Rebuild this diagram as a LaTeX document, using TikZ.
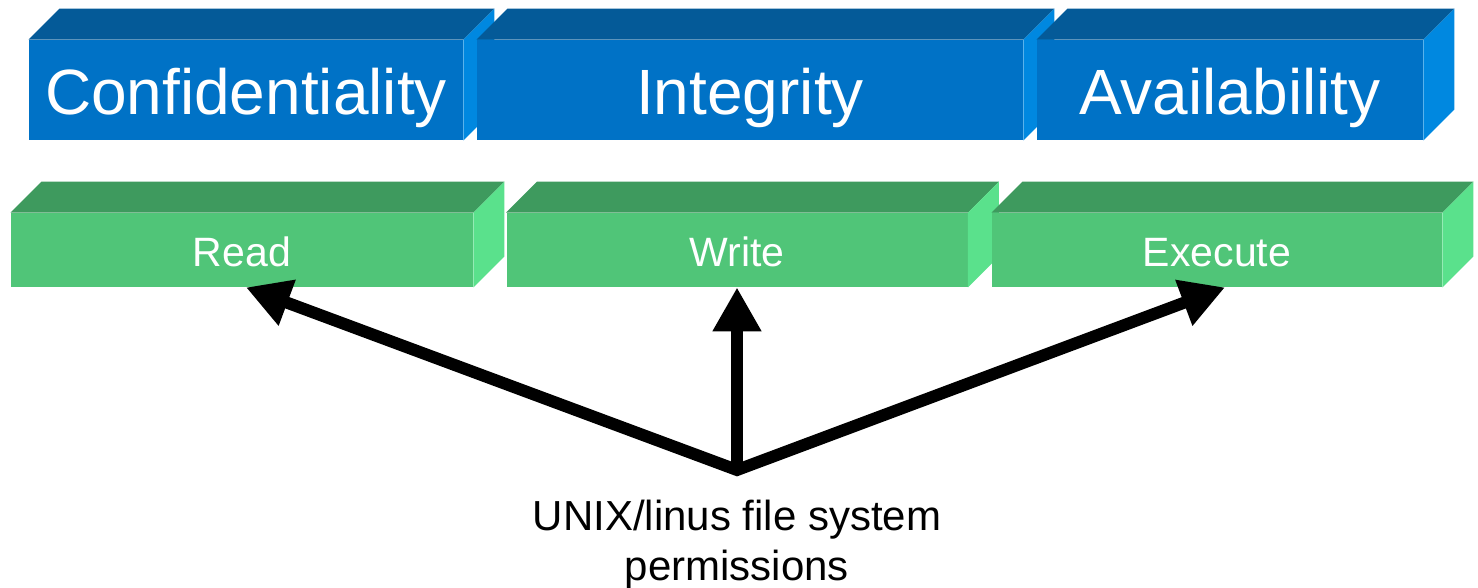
\documentclass[tikz,border=0pt]{standalone}
\usepackage{fontspec}
\setmainfont{Liberation Sans}
\usepackage{xcolor}
\usepackage{tikz}
\usetikzlibrary{arrows.meta}

\definecolor{ciafront}{HTML}{0072C6}
\definecolor{ciatop}{HTML}{045A98}
\definecolor{ciaside}{HTML}{0088E0}
\definecolor{rwxfront}{HTML}{50C578}
\definecolor{rwxtop}{HTML}{3E9A5E}
\definecolor{rwxside}{HTML}{5AE18C}

\begin{document}
\begin{tikzpicture}[x=0.5pt,y=-0.5pt]

	\tikzstyle{cia}=[fill=ciafront,text=white,inner sep=0pt,minimum height=50pt,
		font=\fontsize{32}{38}\selectfont,text height=25pt,text depth=0pt]
	\tikzstyle{rwx}=[fill=rwxfront,text=white,inner sep=0pt,minimum height=37pt,
		font=\fontsize{20.5}{24}\selectfont,text height=16.8pt,text depth=0pt]
	\tikzstyle{arrow}=[line width=6pt,-{Triangle[width=23pt,length=22pt]}]

	\useasboundingbox (0,0) rectangle (1478,588);

	% upper row, boxes drawn left to right so each one covers the last
	\foreach \n/\x/\w/\t in {conf/246/434/Confidentiality,integ/750/546/Integrity,avail/1230/386/Availability}{
		\node[cia,minimum width=\w*0.5pt] (\n) at (\x,90) {\t};
		\fill[ciatop] (\n.north west) -- ([shift={(31,-31)}]\n.north west)
			-- ([shift={(31,-31)}]\n.north east) -- (\n.north east) -- cycle;
		\fill[ciaside] (\n.north east) -- ([shift={(31,-31)}]\n.north east)
			-- ([shift={(31,-31)}]\n.south east) -- (\n.south east) -- cycle;
	}

	% lower row
	\foreach \n/\x/\w/\t in {read/242/462/Read,write/737/461/Write,exec/1217/450/Execute}{
		\node[rwx,minimum width=\w*0.5pt] (\n) at (\x,250) {\t};
		\fill[rwxtop] (\n.north west) -- ([shift={(31,-31)}]\n.north west)
			-- ([shift={(31,-31)}]\n.north east) -- (\n.north east) -- cycle;
		\fill[rwxside] (\n.north east) -- ([shift={(31,-31)}]\n.north east)
			-- ([shift={(31,-31)}]\n.south east) -- (\n.south east) -- cycle;
	}

	\node[anchor=north,inner sep=0pt,align=center,font=\fontsize{21}{25}\selectfont]
		(perm) at (737,500) {UNIX/linus file system\\permissions};
	\coordinate (hub) at (737,470);

	\draw[arrow,{Triangle[width=23pt,length=22pt]}-{Triangle[width=23pt,length=22pt]},line join=miter]
		([xshift=2pt]read.south) -- (hub) -- ([xshift=4pt]exec.south);
	\draw[arrow] (hub) -- (write.south);

\end{tikzpicture}
\end{document}
